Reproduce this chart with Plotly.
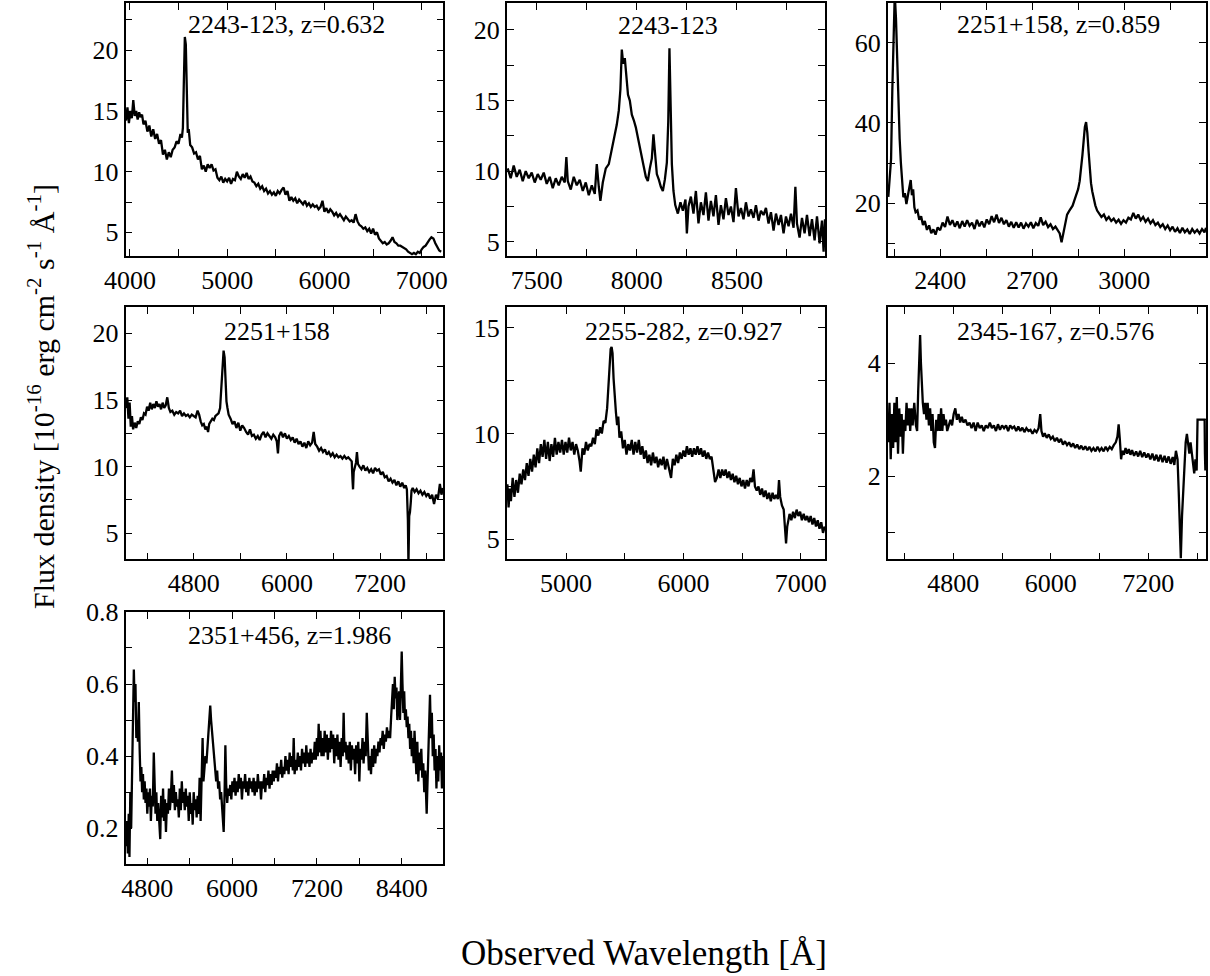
import plotly.graph_objects as go

# ---------------- data ----------------
wl_p1 = [
    3960, 3975, 3990, 4005, 4020, 4035, 4050, 4065, 4080, 4095,
    4110, 4125, 4140, 4160, 4180, 4200, 4220, 4240, 4260, 4280,
    4300, 4320, 4340, 4360, 4380, 4400, 4420, 4440, 4460, 4480,
    4500, 4520, 4535, 4545, 4555, 4565, 4575, 4585, 4595, 4605,
    4620, 4640, 4660, 4680, 4700, 4720, 4740, 4760, 4780, 4800,
    4820, 4840, 4860, 4880, 4900, 4920, 4940, 4960, 4980, 5000,
    5020, 5040, 5060, 5080, 5100, 5120, 5140, 5160, 5180, 5200,
    5220, 5240, 5260, 5280, 5300, 5320, 5340, 5360, 5380, 5400,
    5420, 5440, 5460, 5480, 5500, 5520, 5540, 5560, 5580, 5600,
    5620, 5640, 5660, 5680, 5700, 5720, 5740, 5760, 5780, 5800,
    5820, 5840, 5860, 5880, 5900, 5920, 5940, 5960, 5980, 6000,
    6020, 6040, 6060, 6080, 6100, 6120, 6140, 6160, 6180, 6200,
    6220, 6240, 6260, 6280, 6300, 6320, 6340, 6360, 6380, 6400,
    6420, 6440, 6460, 6480, 6500, 6520, 6540, 6560, 6580, 6600,
    6620, 6640, 6660, 6680, 6700, 6720, 6740, 6760, 6780, 6800,
    6820, 6840, 6860, 6880, 6900, 6920, 6940, 6960, 6980, 7000,
    7020, 7040, 7060, 7080, 7100, 7120, 7140, 7160, 7180, 7200]
fx_p1 = [
    14.2, 15.3, 14.0, 15.0, 14.4, 15.9, 14.6, 15.0, 14.3, 14.9,
    14.5, 14.7, 13.9, 14.2, 13.3, 13.8, 12.9, 13.5, 12.7, 13.1,
    12.3, 12.6, 11.4, 11.8, 11.0, 11.6, 11.2, 11.8, 12.0, 12.5,
    12.3, 13.1, 12.8, 13.6, 17.5, 21.1, 20.5, 16.0, 13.2, 13.5,
    12.2, 12.0, 11.5, 11.6, 11.0, 11.3, 10.2, 10.5, 10.0, 10.6,
    10.3, 10.6, 10.1, 10.2, 9.5, 9.3, 9.6, 9.1, 9.4, 9.2,
    9.5, 9.0, 9.4, 9.3, 10.0, 9.6, 9.4, 9.8, 9.5, 9.9,
    9.4, 9.6, 9.2, 9.1, 8.8, 9.0, 8.6, 8.8, 8.4, 8.6,
    8.2, 8.4, 8.1, 8.3, 8.0, 8.4, 8.2, 8.5, 8.7, 8.1,
    8.4, 7.6, 7.9, 7.6, 7.8, 7.4, 7.7, 7.5, 7.3, 7.6,
    7.2, 7.4, 7.1, 7.3, 7.1, 7.2, 6.9, 7.1, 7.6, 6.7,
    7.0, 6.6, 6.9, 6.7, 6.4, 6.6, 6.3, 6.5, 6.2, 6.0,
    6.3, 6.1, 5.9, 6.0, 5.8, 6.5, 5.9, 5.6, 5.5, 5.3,
    5.4, 5.1, 5.3, 4.9, 5.3, 4.8, 5.0, 4.5, 4.3, 4.1,
    4.2, 4.0, 4.1, 4.3, 4.6, 4.2, 4.1, 3.9, 3.9, 3.8,
    3.7, 3.6, 3.4, 3.3, 3.2, 3.3, 3.2, 3.4, 3.3, 3.6,
    3.8, 3.9, 4.2, 4.4, 4.6, 4.5, 4.1, 3.8, 3.5, 3.4]

wl_p2 = [
    7355, 7370, 7385, 7400, 7415, 7430, 7445, 7460, 7475, 7490,
    7505, 7520, 7535, 7550, 7565, 7580, 7595, 7610, 7625, 7640,
    7648, 7655, 7670, 7685, 7700, 7715, 7730, 7745, 7760, 7775,
    7790, 7800, 7810, 7818, 7830, 7845, 7860, 7875, 7888, 7900,
    7910, 7918, 7925, 7932, 7940, 7948, 7956, 7965, 7975, 7985,
    7995, 8005, 8015, 8025, 8035, 8045, 8055, 8065, 8075, 8083,
    8090, 8100, 8110, 8120, 8130, 8140, 8150, 8157, 8163, 8169,
    8175, 8183, 8192, 8205, 8218, 8230, 8243, 8250, 8258, 8270,
    8283, 8295, 8308, 8320, 8333, 8345, 8358, 8370, 8383, 8395,
    8408, 8420, 8433, 8445, 8458, 8470, 8483, 8495, 8508, 8520,
    8533, 8545, 8558, 8570, 8583, 8595, 8608, 8620, 8633, 8645,
    8658, 8670, 8683, 8695, 8708, 8720, 8733, 8745, 8758, 8770,
    8783, 8792, 8800, 8813, 8825, 8838, 8850, 8863, 8875, 8888,
    8900, 8913, 8925, 8933, 8940]
fx_p2 = [
    10.2, 9.5, 10.4, 9.6, 10.1, 9.3, 10.0, 9.5, 9.9, 9.2,
    9.8, 9.4, 9.9, 9.1, 9.6, 8.8, 9.5, 9.0, 9.6, 9.2,
    11.0, 9.3, 8.7, 9.6, 9.0, 9.4, 8.6, 9.2, 8.3, 9.0,
    8.4, 10.5, 8.9, 7.9, 9.2, 10.2, 10.5, 11.5, 12.4, 13.3,
    14.3, 15.8, 18.6, 17.6, 18.0, 16.5, 15.4, 15.0, 14.0, 13.6,
    13.1, 12.4, 11.6, 11.0, 10.3, 9.6, 9.3, 10.2, 10.9, 12.6,
    11.2, 9.8, 9.4, 8.9, 8.6, 9.4, 10.6, 13.5, 18.7, 15.0,
    10.5, 8.6, 7.6, 7.0, 7.8, 7.2, 8.0, 5.6, 7.5, 8.2,
    7.0, 8.6, 6.3, 7.8, 6.9, 8.5, 6.5, 7.9, 6.8, 8.3,
    6.2, 7.6, 6.6, 8.1, 6.9, 7.5, 6.4, 8.8, 6.8, 7.4,
    6.6, 7.8, 6.8, 7.3, 6.7, 7.6, 6.5, 7.2, 6.9, 7.4,
    6.3, 7.1, 5.8, 7.0, 6.2, 6.9, 5.6, 6.8, 6.1, 7.0,
    6.0, 8.9, 6.3, 5.3, 6.7, 5.6, 6.9, 5.4, 6.6, 5.1,
    6.8, 4.9, 6.5, 4.3, 6.6]

wl_p3 = [
    2231, 2236, 2240, 2244, 2248, 2252, 2256, 2260, 2264, 2268,
    2272, 2276, 2280, 2285, 2290, 2295, 2300, 2304, 2308, 2312,
    2316, 2320, 2326, 2332, 2338, 2344, 2350, 2357, 2364, 2371,
    2378, 2385, 2392, 2400, 2408, 2416, 2424, 2432, 2440, 2448,
    2456, 2464, 2472, 2480, 2488, 2496, 2504, 2512, 2520, 2528,
    2536, 2544, 2552, 2560, 2568, 2576, 2584, 2592, 2600, 2608,
    2616, 2624, 2632, 2640, 2648, 2656, 2664, 2672, 2680, 2688,
    2696, 2704, 2712, 2720, 2728, 2736, 2744, 2752, 2760, 2768,
    2776, 2784, 2790, 2796, 2802, 2808, 2814, 2820, 2826, 2832,
    2838, 2844, 2850, 2855, 2860, 2864, 2868, 2872, 2876, 2880,
    2884, 2888, 2892, 2896, 2901, 2906, 2912, 2918, 2926, 2934,
    2942, 2950, 2958, 2966, 2974, 2982, 2990, 2998, 3006, 3014,
    3022, 3030, 3038, 3046, 3054, 3062, 3070, 3078, 3086, 3094,
    3102, 3110, 3118, 3126, 3134, 3142, 3150, 3158, 3166, 3174,
    3182, 3190, 3198, 3206, 3214, 3222, 3230, 3238, 3246, 3254,
    3262, 3267]
fx_p3 = [
    21.6, 27.0, 31.0, 48.0, 68.0, 72.0, 66.0, 55.0, 45.0, 36.0,
    30.0, 25.0, 21.5, 22.5, 19.8, 22.0, 24.5, 25.8, 22.0, 23.5,
    19.0, 17.8, 18.2, 15.9, 16.8, 14.6, 15.6, 13.4, 14.5, 12.6,
    13.5, 12.2, 14.0, 13.3, 15.2, 14.1, 16.7, 14.6, 15.8, 14.2,
    15.5, 13.8, 15.6, 14.2, 15.8, 14.4, 15.2, 13.6, 15.9, 14.3,
    15.5, 14.0, 16.0, 14.8, 16.8, 15.3, 17.2, 15.1, 16.4, 14.8,
    15.8, 14.2, 15.4, 13.9, 15.3, 14.0, 15.2, 13.7, 15.0, 14.2,
    15.3, 13.8, 15.1, 14.4, 16.5, 14.6, 15.4, 14.1, 14.8, 13.6,
    14.2, 13.4, 12.5, 10.3, 12.8, 15.5, 17.2, 18.0, 18.6, 19.4,
    20.8, 22.0, 23.5, 25.5, 28.5, 32.0, 35.5, 39.0, 40.2, 37.5,
    33.0, 28.5, 25.0, 23.0, 21.0, 19.5, 18.2, 17.6, 16.6, 17.2,
    15.9, 16.6, 15.6, 16.2, 15.2, 15.9, 14.9, 15.8, 15.2, 16.4,
    16.0, 17.6, 16.2, 17.2, 15.8, 16.6, 15.4, 16.2, 15.0, 15.8,
    14.6, 15.2, 14.1, 14.8, 13.6, 14.5, 13.3, 14.2, 12.9, 13.8,
    12.6, 13.9, 12.8, 13.5, 12.4, 13.6, 12.7, 13.4, 12.5, 13.6,
    12.8, 13.9]

wl_p4 = [
    3930, 3945, 3960, 3975, 3990, 4005, 4020, 4040, 4060, 4080,
    4100, 4120, 4140, 4160, 4180, 4200, 4220, 4240, 4260, 4280,
    4300, 4320, 4340, 4360, 4380, 4400, 4420, 4440, 4460, 4480,
    4500, 4525, 4550, 4575, 4600, 4625, 4650, 4675, 4700, 4725,
    4750, 4775, 4800, 4825, 4850, 4870, 4890, 4910, 4930, 4950,
    4970, 4985, 5000, 5020, 5040, 5060, 5080, 5100, 5120, 5140,
    5155, 5170, 5185, 5198, 5210, 5222, 5235, 5250, 5275, 5300,
    5325, 5350, 5375, 5400, 5425, 5450, 5475, 5500, 5525, 5550,
    5575, 5600, 5625, 5650, 5675, 5700, 5725, 5750, 5775, 5800,
    5825, 5850, 5870, 5885, 5900, 5925, 5950, 5975, 6000, 6025,
    6050, 6075, 6100, 6125, 6150, 6175, 6200, 6225, 6250, 6275,
    6300, 6325, 6345, 6365, 6390, 6415, 6440, 6465, 6490, 6515,
    6540, 6565, 6590, 6615, 6640, 6665, 6690, 6715, 6740, 6765,
    6790, 6815, 6835, 6845, 6852, 6860, 6875, 6890, 6902, 6915,
    6935, 6960, 6985, 7010, 7035, 7060, 7085, 7110, 7135, 7160,
    7185, 7210, 7235, 7260, 7285, 7310, 7335, 7360, 7385, 7410,
    7435, 7460, 7485, 7510, 7530, 7545, 7558, 7565, 7575, 7585,
    7595, 7605, 7620, 7645, 7670, 7695, 7720, 7745, 7770, 7795,
    7820, 7845, 7870, 7895, 7920, 7945, 7970, 7990, 8010]
fx_p4 = [
    14.4, 15.2, 13.6, 14.8, 13.0, 13.8, 12.8, 13.3, 12.9, 13.4,
    13.2, 13.7, 13.5, 14.0, 13.9, 14.5, 14.2, 14.8, 14.3, 14.7,
    14.4, 14.9, 14.5, 14.7, 14.3, 14.8, 14.4, 14.6, 15.2, 14.4,
    14.1, 14.2, 13.9, 14.1, 14.0, 14.2, 13.8, 14.0, 13.8, 13.9,
    13.7, 13.9, 13.8, 13.7, 14.2, 13.9, 13.4, 13.1, 13.2, 12.8,
    13.0, 12.6, 13.2, 13.4, 13.6, 13.5, 13.8, 13.9, 14.0, 14.4,
    15.8, 17.6, 18.7, 18.2, 16.5, 14.9, 14.4, 13.9, 13.6, 13.2,
    13.4, 12.9, 13.3, 12.7, 13.1, 12.9, 12.6, 12.4, 12.8, 12.3,
    12.4, 12.1, 12.3, 12.0, 12.4, 12.6, 12.2, 12.5, 12.3, 12.1,
    12.4, 12.2, 11.9, 11.0, 12.3, 12.6, 12.2, 12.5, 12.1, 12.3,
    12.0, 12.2, 11.8, 12.1, 11.7, 11.9, 11.5, 11.8, 11.4, 11.9,
    11.6, 11.8, 12.6, 11.7, 11.5, 11.2, 11.4, 11.1, 11.3, 10.9,
    11.1, 10.8, 11.0, 10.7, 10.9, 10.7, 10.8, 10.6, 10.8, 10.6,
    10.7, 10.5, 10.4, 9.0, 8.3, 9.6, 10.1, 10.3, 11.1, 10.2,
    10.0, 9.8, 10.1, 9.7, 9.9, 9.6, 9.8, 9.5, 9.9, 9.7,
    9.8, 9.4, 9.6, 9.2, 9.3, 8.9, 9.1, 8.8, 9.0, 8.6,
    8.9, 8.5, 8.8, 8.4, 8.6, 8.3, 6.0, 2.7, 6.3, 6.6,
    7.3, 8.2, 8.4, 8.1, 8.3, 8.0, 8.2, 7.9, 8.1, 7.8,
    8.0, 7.6, 7.9, 7.2, 7.9, 7.6, 8.7, 7.9, 8.4]

wl_p5 = [
    4500, 4510, 4520, 4530, 4545, 4560, 4575, 4590, 4605, 4620,
    4635, 4650, 4665, 4680, 4695, 4710, 4725, 4740, 4755, 4770,
    4785, 4800, 4815, 4830, 4845, 4860, 4875, 4890, 4905, 4920,
    4935, 4950, 4965, 4980, 4995, 5010, 5025, 5040, 5055, 5070,
    5085, 5100, 5115, 5125, 5140, 5155, 5170, 5185, 5200, 5215,
    5230, 5245, 5260, 5275, 5290, 5305, 5320, 5335, 5350, 5360,
    5370, 5380, 5388, 5396, 5405, 5415, 5425, 5435, 5445, 5455,
    5470, 5485, 5500, 5515, 5530, 5545, 5560, 5575, 5590, 5605,
    5620, 5635, 5650, 5665, 5680, 5695, 5710, 5725, 5740, 5755,
    5770, 5785, 5800, 5815, 5830, 5845, 5860, 5875, 5895, 5910,
    5925, 5940, 5955, 5970, 5985, 6000, 6015, 6030, 6045, 6060,
    6075, 6090, 6105, 6120, 6135, 6150, 6165, 6180, 6195, 6210,
    6225, 6240, 6255, 6270, 6285, 6300, 6315, 6330, 6345, 6360,
    6375, 6390, 6405, 6420, 6435, 6450, 6465, 6480, 6495, 6510,
    6525, 6540, 6555, 6570, 6585, 6598, 6610, 6625, 6640, 6655,
    6670, 6685, 6700, 6715, 6730, 6745, 6760, 6775, 6790, 6805,
    6815, 6825, 6840, 6855, 6865, 6875, 6885, 6895, 6905, 6920,
    6935, 6950, 6965, 6980, 6995, 7010, 7025, 7040, 7055, 7070,
    7085, 7100, 7115, 7130, 7145, 7160, 7175, 7190, 7205]
fx_p5 = [
    7.6, 6.5, 7.4, 6.8, 7.9, 7.0, 7.8, 7.2, 8.1, 7.6,
    8.3, 7.8, 8.6, 8.0, 8.8, 8.2, 9.0, 8.4, 9.3, 8.6,
    9.5, 8.9, 9.7, 8.8, 9.6, 8.7, 9.5, 8.9, 9.8, 9.0,
    9.6, 9.1, 9.7, 9.0, 9.6, 9.1, 9.8, 9.2, 9.6, 9.0,
    9.5, 9.2, 8.7, 8.2, 9.3, 9.0, 9.6, 9.2, 9.5, 9.4,
    9.8, 9.5, 10.2, 9.9, 10.3, 10.0, 10.6, 10.5, 11.2, 12.0,
    13.0, 14.0, 14.1, 13.8, 12.6, 11.5, 11.0, 10.4, 10.8, 9.8,
    10.1, 9.3, 9.7, 9.0, 9.5, 9.2, 9.7, 9.0, 9.6, 9.1,
    9.7, 9.0, 9.4, 8.8, 9.2, 8.6, 9.0, 8.5, 9.1, 8.6,
    8.9, 8.4, 8.8, 8.5, 8.9, 8.3, 8.8, 8.4, 7.9, 8.8,
    8.5, 9.0, 8.6, 9.1, 8.8, 9.2, 8.9, 9.4, 9.0, 9.3,
    8.9, 9.3, 9.0, 9.4, 9.0, 9.3, 8.9, 9.2, 8.8, 9.1,
    8.8, 8.9, 8.4, 7.7, 7.9, 8.3, 7.9, 8.3, 8.0, 8.3,
    7.9, 8.2, 7.8, 8.1, 7.7, 8.0, 7.6, 7.9, 7.5, 7.8,
    7.4, 7.8, 7.5, 7.9, 7.7, 8.3, 7.5, 7.3, 7.5, 7.1,
    7.4, 7.0, 7.3, 6.9, 7.2, 6.8, 7.2, 6.9, 7.1, 6.9,
    7.8, 7.0, 6.6, 6.4, 5.6, 4.8, 5.6, 5.9, 6.2, 5.9,
    6.3, 6.0, 6.4, 6.1, 6.3, 5.9, 6.2, 5.9, 6.1, 5.8,
    6.1, 5.7, 6.0, 5.6, 5.9, 5.5, 5.8, 5.3, 5.6]

wl_p6 = [
    4000, 4015, 4030, 4045, 4060, 4075, 4090, 4105, 4120, 4135,
    4150, 4165, 4180, 4195, 4210, 4225, 4240, 4255, 4270, 4285,
    4300, 4320, 4340, 4355, 4368, 4380, 4392, 4402, 4412, 4425,
    4440, 4455, 4470, 4485, 4500, 4515, 4530, 4545, 4560, 4575,
    4590, 4605, 4620, 4635, 4650, 4665, 4680, 4695, 4710, 4725,
    4745, 4765, 4785, 4805, 4825, 4845, 4865, 4885, 4905, 4925,
    4950, 4975, 5000, 5025, 5050, 5075, 5100, 5125, 5150, 5175,
    5200, 5225, 5250, 5275, 5300, 5325, 5350, 5375, 5400, 5425,
    5450, 5475, 5500, 5525, 5550, 5575, 5600, 5625, 5650, 5675,
    5700, 5725, 5750, 5775, 5800, 5825, 5850, 5870, 5885, 5905,
    5925, 5950, 5975, 6000, 6025, 6050, 6075, 6100, 6125, 6150,
    6175, 6200, 6225, 6250, 6275, 6300, 6325, 6350, 6375, 6400,
    6425, 6450, 6475, 6500, 6525, 6550, 6575, 6600, 6625, 6650,
    6675, 6700, 6725, 6750, 6775, 6800, 6820, 6835, 6850, 6865,
    6880, 6900, 6920, 6940, 6960, 6980, 7000, 7025, 7050, 7075,
    7100, 7125, 7150, 7175, 7200, 7225, 7250, 7275, 7300, 7325,
    7350, 7375, 7400, 7425, 7450, 7475, 7500, 7520, 7540, 7560,
    7575, 7590, 7600, 7615, 7630, 7645, 7660, 7675, 7690, 7705,
    7720, 7735, 7750, 7765, 7780, 7795, 7806, 7850, 7893, 7897,
    7902, 7906, 7910]
fx_p6 = [
    2.6, 3.3, 2.3, 3.1, 2.5, 3.3, 2.6, 3.4, 2.4, 3.2,
    2.7, 3.1, 2.4, 3.0, 2.8, 3.3, 2.9, 3.2, 2.8, 3.2,
    2.9, 3.3, 2.9, 2.8, 3.5, 4.1, 4.5, 4.0, 3.5, 3.3,
    3.1, 3.3, 3.0, 3.3, 2.9, 3.2, 2.8, 3.1, 2.6, 2.5,
    3.0, 2.8, 3.1, 2.8, 3.2, 2.8, 3.1, 2.9, 3.0, 2.8,
    2.9, 3.0, 2.9, 3.1, 3.2, 3.0, 3.1, 2.95, 3.05, 2.95,
    3.0, 2.9, 2.95, 2.85, 2.95, 2.8, 2.95, 2.85, 2.9, 2.8,
    2.9, 2.85, 2.95, 2.85, 2.9, 2.8, 2.92, 2.82, 2.9, 2.85,
    2.9, 2.8, 2.9, 2.85, 2.88, 2.8, 2.88, 2.8, 2.86, 2.78,
    2.85, 2.8, 2.82, 2.75, 2.82, 2.78, 2.85, 3.1, 2.8, 2.7,
    2.76, 2.68, 2.74, 2.66, 2.7, 2.62, 2.68, 2.6, 2.66, 2.56,
    2.62, 2.55, 2.6, 2.52, 2.58, 2.5, 2.56, 2.48, 2.54, 2.47,
    2.53, 2.46, 2.52, 2.45, 2.5, 2.44, 2.52, 2.45, 2.5, 2.44,
    2.52, 2.46, 2.52, 2.48, 2.55, 2.6, 2.7, 2.92, 2.65, 2.3,
    2.45, 2.38, 2.5, 2.4, 2.48, 2.38, 2.46, 2.36, 2.44, 2.35,
    2.45, 2.34, 2.42, 2.33, 2.4, 2.3, 2.4, 2.28, 2.38, 2.26,
    2.38, 2.25, 2.36, 2.24, 2.35, 2.22, 2.34, 2.2, 2.45, 2.3,
    1.7, 1.1, 0.55, 1.3, 1.7, 2.2, 2.6, 2.75, 2.5, 2.4,
    2.6, 2.4, 2.2, 2.05, 2.3, 2.1, 3.0, 3.0, 3.0, 2.4,
    2.1, 2.5, 2.3]

wl_p7 = [
    4503, 4515, 4527, 4540, 4550, 4562, 4574, 4585, 4595, 4605,
    4612, 4622, 4635, 4647, 4659, 4670, 4682, 4694, 4706, 4718,
    4729, 4741, 4753, 4765, 4777, 4790, 4802, 4815, 4828, 4840,
    4853, 4866, 4880, 4894, 4905, 4918, 4930, 4943, 4956, 4970,
    4985, 4998, 5012, 5025, 5038, 5052, 5066, 5080, 5094, 5108,
    5122, 5136, 5150, 5164, 5178, 5192, 5206, 5220, 5234, 5248,
    5262, 5276, 5290, 5304, 5318, 5332, 5346, 5360, 5374, 5388,
    5402, 5416, 5430, 5444, 5458, 5472, 5486, 5500, 5514, 5528,
    5542, 5556, 5570, 5584, 5596, 5610, 5624, 5638, 5652, 5666,
    5680, 5692, 5704, 5716, 5728, 5740, 5752, 5764, 5776, 5790,
    5804, 5818, 5832, 5846, 5860, 5872, 5882, 5895, 5906, 5918,
    5932, 5946, 5960, 5975, 5990, 6005, 6020, 6035, 6050, 6065,
    6080, 6095, 6110, 6125, 6140, 6155, 6170, 6185, 6200, 6215,
    6230, 6245, 6260, 6275, 6290, 6305, 6320, 6335, 6350, 6365,
    6380, 6395, 6410, 6425, 6440, 6455, 6470, 6485, 6500, 6515,
    6530, 6545, 6560, 6575, 6590, 6605, 6620, 6635, 6650, 6665,
    6680, 6695, 6710, 6725, 6740, 6755, 6770, 6785, 6800, 6815,
    6830, 6845, 6860, 6872, 6885, 6900, 6915, 6930, 6945, 6960,
    6975, 6990, 7005, 7020, 7035, 7050, 7065, 7080, 7095, 7110,
    7125, 7140, 7155, 7170, 7185, 7200, 7212, 7225, 7238, 7250,
    7265, 7280, 7295, 7310, 7325, 7340, 7355, 7370, 7385, 7400,
    7415, 7430, 7445, 7460, 7475, 7490, 7505, 7520, 7535, 7550,
    7565, 7578, 7590, 7605, 7620, 7635, 7650, 7665, 7680, 7695,
    7710, 7725, 7740, 7755, 7770, 7785, 7800, 7815, 7830, 7845,
    7860, 7875, 7890, 7905, 7920, 7935, 7950, 7965, 7980, 7995,
    8010, 8025, 8040, 8055, 8070, 8085, 8100, 8115, 8130, 8145,
    8160, 8175, 8190, 8205, 8220, 8235, 8250, 8262, 8275, 8287,
    8300, 8312, 8325, 8337, 8350, 8362, 8375, 8387, 8399, 8410,
    8422, 8434, 8446, 8458, 8470, 8482, 8494, 8506, 8518, 8530,
    8542, 8555, 8568, 8580, 8593, 8606, 8620, 8634, 8648, 8662,
    8676, 8690, 8704, 8718, 8732, 8746, 8752, 8760, 8773, 8786,
    8799, 8812, 8825, 8838, 8851, 8864, 8877, 8890, 8903, 8916,
    8929, 8942, 8955, 8968, 8980]
fx_p7 = [
    0.15, 0.22, 0.13, 0.24, 0.12, 0.30, 0.20, 0.37, 0.45, 0.58,
    0.64, 0.55, 0.60, 0.45, 0.50, 0.44, 0.55, 0.42, 0.33, 0.37,
    0.30, 0.35, 0.28, 0.33, 0.27, 0.31, 0.24, 0.30, 0.26, 0.31,
    0.22, 0.29, 0.26, 0.41, 0.28, 0.24, 0.30, 0.22, 0.27, 0.20,
    0.17, 0.29, 0.23, 0.31, 0.22, 0.28, 0.19, 0.27, 0.24, 0.31,
    0.25, 0.29, 0.36, 0.27, 0.32, 0.25, 0.30, 0.26, 0.28, 0.23,
    0.31, 0.25, 0.33, 0.27, 0.30, 0.25, 0.31, 0.26, 0.29, 0.22,
    0.30, 0.24, 0.27, 0.21, 0.30, 0.25, 0.28, 0.23, 0.29, 0.24,
    0.34, 0.22, 0.38, 0.45, 0.33, 0.36, 0.40, 0.38, 0.43, 0.46,
    0.50, 0.54, 0.50, 0.47, 0.43, 0.41, 0.37, 0.35, 0.33, 0.36,
    0.31, 0.33, 0.28, 0.30, 0.25, 0.21, 0.19, 0.30, 0.43, 0.32,
    0.27, 0.31, 0.29, 0.32, 0.28, 0.33, 0.30, 0.34, 0.29, 0.33,
    0.30, 0.35, 0.31, 0.34, 0.28, 0.33, 0.31, 0.35, 0.30, 0.33,
    0.29, 0.34, 0.31, 0.33, 0.30, 0.34, 0.29, 0.33, 0.30, 0.35,
    0.31, 0.33, 0.28, 0.33, 0.31, 0.35, 0.30, 0.34, 0.32, 0.36,
    0.31, 0.35, 0.32, 0.36, 0.33, 0.36, 0.34, 0.38, 0.33, 0.37,
    0.35, 0.39, 0.34, 0.37, 0.35, 0.40, 0.36, 0.39, 0.35, 0.41,
    0.37, 0.40, 0.36, 0.45, 0.35, 0.39, 0.36, 0.41, 0.37, 0.40,
    0.36, 0.42, 0.38, 0.41, 0.37, 0.43, 0.38, 0.41, 0.37, 0.42,
    0.38, 0.41, 0.39, 0.44, 0.39, 0.45, 0.40, 0.49, 0.41, 0.47,
    0.40, 0.45, 0.40, 0.47, 0.41, 0.46, 0.39, 0.45, 0.41, 0.47,
    0.42, 0.46, 0.38, 0.45, 0.40, 0.46, 0.39, 0.44, 0.37, 0.45,
    0.40, 0.52, 0.41, 0.44, 0.39, 0.43, 0.38, 0.44, 0.36, 0.43,
    0.39, 0.42, 0.35, 0.43, 0.38, 0.44, 0.33, 0.42, 0.39, 0.45,
    0.38, 0.44, 0.40, 0.52, 0.41, 0.36, 0.40, 0.35, 0.42, 0.37,
    0.43, 0.38, 0.42, 0.40, 0.44, 0.41, 0.45, 0.43, 0.47, 0.42,
    0.46, 0.44, 0.48, 0.45, 0.47, 0.45, 0.51, 0.55, 0.60, 0.53,
    0.62, 0.56, 0.59, 0.50, 0.54, 0.58, 0.50, 0.63, 0.69, 0.60,
    0.52, 0.58, 0.50, 0.53, 0.48, 0.51, 0.45, 0.49, 0.42, 0.47,
    0.40, 0.45, 0.38, 0.47, 0.40, 0.35, 0.44, 0.33, 0.41, 0.36,
    0.42, 0.34, 0.38, 0.30, 0.36, 0.27, 0.24, 0.30, 0.40, 0.48,
    0.57, 0.45, 0.52, 0.40, 0.46, 0.36, 0.42, 0.31, 0.40, 0.33,
    0.43, 0.36, 0.41, 0.31, 0.40]

titles = ["2243-123, z=0.632", "2243-123", "2251+158, z=0.859",
          "2251+158", "2255-282, z=0.927", "2345-167, z=0.576",
          "2351+456, z=1.986"]
x_label = "Observed Wavelength [Å]"
y_label = ("Flux density [10<sup>-16</sup> erg cm<sup>-2</sup> "
           "s<sup>-1</sup> Å<sup>-1</sup>]")

spectra = [(wl_p1, fx_p1), (wl_p2, fx_p2), (wl_p3, fx_p3), (wl_p4, fx_p4),
           (wl_p5, fx_p5), (wl_p6, fx_p6), (wl_p7, fx_p7)]
for w, f in spectra:
    assert len(w) == len(f), (len(w), len(f))

# ---------------- layout ----------------
W, H = 1210, 976
FONT = "Liberation Serif"

# panel boxes in pixels: (left, right) and (top, bottom)
cols = [(125.5, 443.3), (506.7, 825.0), (887.7, 1206.0)]
rows = [(3.0, 256.0), (306.7, 559.3), (611.7, 864.3)]
cells = [(0, 0), (0, 1), (0, 2), (1, 0), (1, 1), (1, 2), (2, 0)]

axes_cfg = [
    dict(xr=[3955, 7222], xt0=4000, xdt=1000, xmd=500, yr=[3.05, 23.9], yt0=0, ydt=5, ymd=2.5),
    dict(xr=[7350, 8940], xt0=7500, xdt=500, xmd=250, yr=[4.0, 21.9], yt0=0, ydt=5, ymd=2.5),
    dict(xr=[2229, 3267], xt0=2400, xdt=300, xmd=150, yr=[6.9, 69.8], yt0=0, ydt=20, ymd=10),
    dict(xr=[3922, 8014], xt0=4800, xdt=1200, xmd=600, yr=[3.05, 22.0], yt0=0, ydt=5, ymd=2.5),
    dict(xr=[4494, 7207], xt0=5000, xdt=1000, xmd=500, yr=[4.05, 16.0], yt0=0, ydt=5, ymd=2.5),
    dict(xr=[3993, 7910], xt0=4800, xdt=1200, xmd=600, yr=[0.53, 5.0], yt0=0, ydt=2, ymd=1),
    dict(xr=[4494, 8987], xt0=4800, xdt=1200, xmd=600, yr=[0.1, 0.8005], yt0=0, ydt=0.2, ymd=0.1),
]

title_pos = [(286, 24), (668, 25), (1058, 24), (276.5, 331.5),
             (683.5, 331.5), (1055.5, 331.5), (289, 635)]

fig = go.Figure()
layout = dict(
    template="none",
    width=W, height=H,
    margin=dict(l=0, r=0, t=0, b=0, pad=0, autoexpand=False),
    paper_bgcolor="white", plot_bgcolor="white",
    showlegend=False,
    font=dict(family=FONT, size=26, color="black"),
)

tick_common = dict(
    showline=True, linecolor="black", linewidth=1.6, mirror="ticks",
    ticks="inside", ticklen=7, tickwidth=1.3, tickcolor="black",
    showgrid=False, zeroline=False, automargin=False,
    tickfont=dict(family=FONT, size=26, color="black"),
)

annotations = []
for i, ((w, f), (r, c), cfg) in enumerate(zip(spectra, cells, axes_cfg)):
    n = i + 1
    xname = "xaxis" if n == 1 else f"xaxis{n}"
    yname = "yaxis" if n == 1 else f"yaxis{n}"
    xref = "x" if n == 1 else f"x{n}"
    yref = "y" if n == 1 else f"y{n}"
    l, rr = cols[c]
    t, b = rows[r]
    layout[xname] = dict(
        domain=[l / W, rr / W], anchor=yref, range=cfg["xr"],
        tick0=cfg["xt0"], dtick=cfg["xdt"],
        minor=dict(ticks="inside", ticklen=7, tickwidth=1.3, tickcolor="black",
                   tick0=cfg["xt0"], dtick=cfg["xmd"], showgrid=False),
        **tick_common)
    layout[yname] = dict(
        domain=[1 - b / H, 1 - t / H], anchor=xref, range=cfg["yr"],
        tick0=cfg["yt0"], dtick=cfg["ydt"],
        minor=dict(ticks="inside", ticklen=7, tickwidth=1.3, tickcolor="black",
                   tick0=cfg["yt0"], dtick=cfg["ymd"], showgrid=False),
        **tick_common)
    fig.add_trace(go.Scatter(x=w, y=f, mode="lines", xaxis=xref, yaxis=yref,
                             line=dict(color="black", width=2.3),
                             hoverinfo="skip"))
    tx, ty = title_pos[i]
    annotations.append(dict(
        text=titles[i], x=tx / W, y=1 - ty / H, xref="paper", yref="paper",
        xanchor="center", yanchor="middle", showarrow=False,
        font=dict(family=FONT, size=26, color="black")))

annotations.append(dict(
    text=x_label, x=644 / W, y=1 - 953 / H, xref="paper", yref="paper",
    xanchor="center", yanchor="middle", showarrow=False,
    font=dict(family=FONT, size=35, color="black")))
annotations.append(dict(
    text=y_label, x=41 / W, y=1 - 397 / H, xref="paper", yref="paper",
    xanchor="center", yanchor="middle", showarrow=False, textangle=-90,
    font=dict(family=FONT, size=30, color="black")))

layout["annotations"] = annotations
fig.update_layout(**layout)
fig.write_html("out.html", config={"displayModeBar": False})
